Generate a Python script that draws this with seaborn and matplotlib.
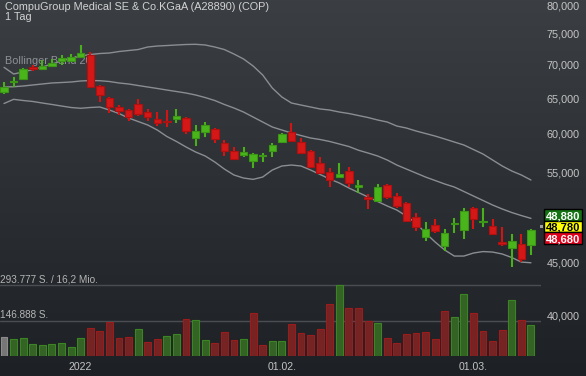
import numpy as np
import pandas as pd
import seaborn as sns
import matplotlib
matplotlib.use("Agg")
import matplotlib.pyplot as plt
from matplotlib.colors import LinearSegmentedColormap
from matplotlib.patches import Rectangle
from matplotlib.ticker import FixedLocator, FuncFormatter, NullLocator
from matplotlib.transforms import IdentityTransform

# --- data (daily candles, EUR) ---
title = "CompuGroup Medical SE & Co.KGaA (A28890) (COP)"
period_label = "1 Tag"
band_label = "Bollinger Band 20"
first_day = "2021-12-22"

opens = [65830, 67400, 67770, 69710, 69300, 69820, 70640, 70590, 71180, 71550,
         66770, 64960, 63670, 63280, 64140, 63040, 61980, 61810, 61980, 62160,
         59410, 60290, 60610, 58740, 57700, 57200, 56510, 57130, 57780, 58910,
         60200, 58870, 57700, 56180, 55060, 54530, 55190, 53320, 52080, 51680,
         53490, 52230, 51380, 49800, 47630, 48920, 46740, 49030, 48410, 50810,
         49250, 48880, 47130, 46470, 46920, 46820]
highs = [67400, 68080, 69460, 69970, 70750, 70870, 71550, 71700, 73170, 72070,
         66920, 65100, 63990, 63420, 64810, 63380, 62950, 63280, 63420, 62260,
         61200, 61560, 60790, 59180, 58230, 58230, 57520, 57450, 58820, 60150,
         61420, 59410, 57870, 57020, 55560, 56250, 55680, 54130, 52460, 53650,
         53650, 52540, 51530, 50250, 49250, 49580, 48490, 49690, 50810, 50930,
         50810, 49580, 48700, 47950, 47950, 48490]
lows = [65570, 66660, 67660, 69080, 69190, 69610, 69970, 70390, 71100, 66570,
        64460, 62810, 62580, 61740, 62480, 61790, 61060, 60970, 61420, 59930,
        58440, 59540, 58820, 57110, 56600, 57020, 55630, 56380, 57020, 58740,
        58950, 57360, 55680, 54940, 53320, 54330, 53320, 52610, 50770, 51560,
        51840, 50810, 49310, 48300, 47270, 48110, 46220, 48060, 47450, 48490,
        48770, 47840, 46710, 44600, 45100, 45780]
closes = [66570, 67500, 69300, 69300, 69820, 70320, 71020, 71180, 71810, 66660,
          65440, 63670, 63100, 62260, 62710, 62340, 61510, 61670, 62440, 60340,
          60340, 61200, 59270, 57740, 56720, 57610, 57320, 57260, 58530, 59980,
          59090, 57520, 55760, 55010, 54130, 54860, 53720, 53490, 51840, 53320,
          52150, 51080, 49420, 48770, 48490, 48330, 48060, 49140, 50470, 49610,
          49390, 47950, 46890, 47240, 45340, 48380]

volume = [80000, 69000, 73000, 50000, 47000, 50000, 52000, 36000, 74000, 116000,
          105000, 141000, 74000, 80000, 112000, 58000, 70000, 84000, 92000, 154000,
          149000, 68000, 55000, 98000, 68000, 72000, 177000, 47000, 61000, 63000,
          132000, 94000, 86000, 110000, 215000, 293777, 200000, 197000, 145000, 137000,
          76000, 55000, 92000, 95000, 101000, 72000, 185000, 163000, 255000, 177000,
          102000, 63000, 106000, 233000, 150000, 130000]
vol_dir = ["flat"] + ["up"] * 8 + ["down"] * 5 + ["up", "down", "down", "up", "up", "down",
           "up", "up", "down", "down", "down", "up", "down", "down", "up", "up",
           "down", "down", "down", "down", "down", "up", "down", "down", "down", "up",
           "down", "down", "down", "down", "down", "down", "down", "up", "up", "down",
           "down", "down", "down", "up", "down", "up"]
turnover_label = "16,2 Mio."

bb_upper = [69610, 68580, 68890, 69270, 69660, 70130, 70600, 70990, 71390, 71630,
            71790, 71870, 72110, 72270, 72430, 72840, 73000, 73080, 73170, 73250,
            73280, 73170, 72840, 72430, 71710, 70920, 69820, 68430, 66470, 65150,
            64280, 63990, 63710, 63430, 63280, 63000, 62790, 62510, 62230, 61890,
            61610, 61060, 60790, 60390, 60050, 59710, 59320, 58920, 58530, 57940,
            57360, 56600, 55850, 55230, 54740, 54130]
bb_middle = [66620, 66660, 66770, 66920, 67070, 67220, 67290, 67370, 67520, 67590,
             67560, 67440, 67220, 67070, 66840, 66620, 66400, 66170, 65950, 65730,
             65440, 65070, 64640, 64070, 63570, 63000, 62300, 61610, 60930, 60520,
             60120, 59780, 59450, 59250, 58990, 58660, 58330, 57850, 57490, 57110,
             56600, 55970, 55470, 54980, 54490, 54070, 53650, 53290, 52760, 52230,
             51710, 51190, 50740, 50340, 50000, 49690]
bb_lower = [64210, 64810, 64640, 64500, 64280, 64070, 63850, 63640, 63530, 63640,
            63710, 63280, 62790, 62160, 61680, 61200, 60520, 59650, 58990, 58270,
            57620, 57110, 56350, 55470, 54740, 54370, 54210, 54490, 55350, 55850,
            55970, 55850, 55350, 54800, 54250, 53770, 53170, 52640, 52110, 51590,
            51080, 50620, 49950, 49170, 48090, 47130, 46300, 45680, 45680, 45990,
            46140, 46090, 45890, 45530, 45070, 45000]

price_ticks = [40000, 45000, 50000, 55000, 60000, 65000, 70000, 75000, 80000]
last_price = 48780
quote_boxes = [(48880, "#137313", "white"), (48780, "#ffff00", "black"), (48680, "#e3001b", "white")]

# --- style ---
sns.set_theme(style="dark")
plt.rcParams["font.family"] = ["Liberation Sans", "DejaVu Sans"]

W, H = 586, 376
fig = plt.figure(figsize=(W / 100, H / 100), dpi=100)

# dark vertical gradient behind everything
bg = fig.add_axes([0, 0, 1, 1], zorder=-10)
bg.imshow(np.linspace(0, 1, 256).reshape(-1, 1), aspect="auto", extent=[0, 1, 0, 1],
          cmap=LinearSegmentedColormap.from_list("bg", ["#3b3f43", "#1d2024"]))
bg.axis("off")

ax = fig.add_axes([0, 20 / H, 541 / W, 356 / H])
ax_v = ax.twinx()
ax.set_zorder(2)
ax_v.set_zorder(1)
ax.set_facecolor("none")
ax_v.set_facecolor("none")

n = len(closes)
idx = np.arange(n)
o, h, l, c = (np.array(v, dtype=float) for v in (opens, highs, lows, closes))

# volume bars
vol_face = {"up": "#2f6d1b", "down": "#841515", "flat": "#767676"}
vol_edge = {"up": "#3b8524", "down": "#9a1c1c", "flat": "#8c8c8c"}
vol_df = pd.DataFrame({"idx": idx, "volume": volume, "dir": vol_dir})
sns.barplot(data=vol_df, x="idx", y="volume", hue="dir", palette=vol_face,
            native_scale=True, dodge=False, width=0.72, errorbar=None,
            legend=False, linewidth=0.8, ax=ax_v)
for p in ax_v.patches:
    i = int(round(p.get_x() + p.get_width() / 2))
    p.set_edgecolor(vol_edge[vol_dir[i]])

vol_top = max(volume)
for lvl in (vol_top, vol_top // 2):
    ax_v.axhline(lvl, color="#4a4e52", lw=1, zorder=0)
ax_v.set_ylim(0, vol_top * 356 / 71)
de = lambda v: f"{v:,}".replace(",", ".")
ax_v.annotate(f"{de(vol_top)} S. / {turnover_label}", xy=(0, vol_top),
              xycoords=("axes fraction", "data"), xytext=(0, 2), textcoords="offset points",
              va="baseline", ha="left", fontsize=7.2, color="#b4b4b4")
ax_v.annotate(f"{de(vol_top // 2)} S.", xy=(0, vol_top // 2),
              xycoords=("axes fraction", "data"), xytext=(0, 1.5), textcoords="offset points",
              va="baseline", ha="left", fontsize=7.2, color="#b4b4b4")
ax_v.set_yticks([])
ax_v.set_ylabel("")
ax_v.grid(False)

# bollinger bands
for band in (bb_upper, bb_middle, bb_lower):
    sns.lineplot(x=idx, y=band, ax=ax, color="#8a8e92", lw=1.0, zorder=1)
ax.text(5 / 541, 1 - 61 / 356, band_label, transform=ax.transAxes, va="center",
        fontsize=7.8, color="#8e9195", zorder=1)

# candles
up = c >= o
wick = np.where(up, "#47b01a", "#d11515")
face = np.where(up, "#49b51b", "#d41717")
edge = np.where(up, "#3a9614", "#b01010")
ax.vlines(idx, l, h, colors=wick, lw=1.5, zorder=2)
ax.bar(idx, np.abs(c - o), bottom=np.minimum(o, c), width=0.78, color=face,
       edgecolor=edge, lw=0.8, zorder=3)

# axes
ax.set_yscale("log")
ax.set_ylim(36546, 80898)
ax.set_xlim(-0.42, 56.05)
ax.yaxis.tick_right()
ax.yaxis.set_major_locator(FixedLocator(price_ticks))
ax.yaxis.set_minor_locator(NullLocator())
ax.yaxis.set_major_formatter(FuncFormatter(lambda v, _: f"{v:,.0f}"))
ax.tick_params(axis="y", length=0, pad=4, labelsize=7.8, labelcolor="#c4c4c4")

dates = pd.bdate_range(first_day, periods=n)
tick_pos = [i for i in range(1, n) if dates[i].month != dates[i - 1].month]
tick_lab = [str(dates[i].year) if dates[i].year != dates[i - 1].year else dates[i].strftime("%d.%m.")
            for i in tick_pos]
ax.set_xticks(tick_pos)
ax.set_xticklabels(tick_lab)
ax.tick_params(axis="x", length=0, pad=4, labelsize=7.6, labelcolor="#c4c4c4")
ax.set_xlabel("")
ax.set_ylabel("")
ax.grid(False)
for a in (ax, ax_v):
    for s in a.spines.values():
        s.set_visible(False)

# title
fig.text(5 / W, 1 - 10.5 / H, title, va="baseline", fontsize=7.8, color="#d2d2d2")
fig.text(5 / W, 1 - 20 / H, period_label, va="baseline", fontsize=7.8, color="#d2d2d2")

# quote boxes at the right edge, centred on the last price
y_last = ax.transData.transform((0, last_price))[1]
box_h, box_x, box_w = 11.5, 544, 38
fig.add_artist(Rectangle((540, y_last - 1.7), 3.4, 3.4, transform=IdentityTransform(),
                         fc="#a0a0a0", ec="none", zorder=10))
for k, (val, fc, tc) in enumerate(quote_boxes):
    yc = y_last + (1 - k) * box_h
    fig.add_artist(Rectangle((box_x, yc - box_h / 2), box_w, box_h, transform=IdentityTransform(),
                             fc=fc, ec="black", lw=1, zorder=10))
    fig.text(box_x + box_w / 2, yc, f"{val:,}", transform=IdentityTransform(), ha="center",
             va="center_baseline", fontsize=8, fontweight="bold", color=tc, zorder=11)

fig.savefig("out.png", dpi=100)
